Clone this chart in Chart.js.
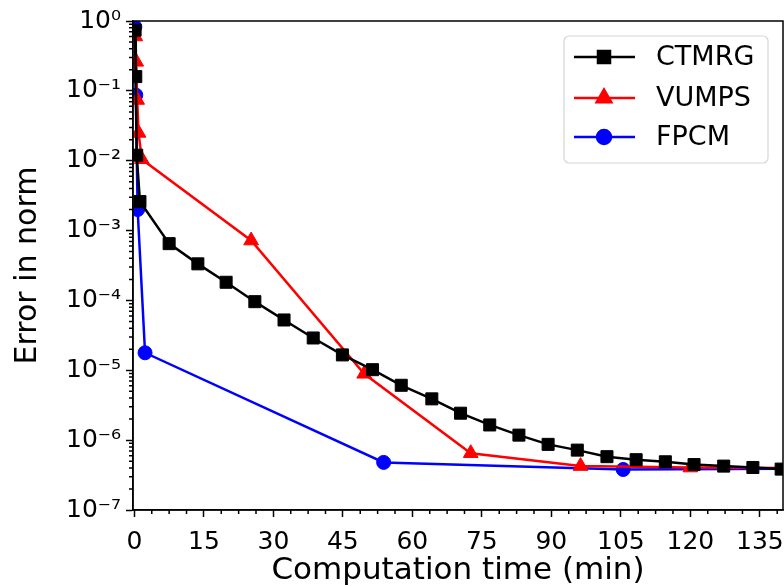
<!DOCTYPE html>
<html>
<head>
<meta charset="utf-8">
<style>
  html, body { margin: 0; padding: 0; background: #fff; }
  #wrap { width: 784px; height: 586px; }
</style>
</head>
<body>
<div id="wrap"><canvas id="errChart" width="784" height="586"></canvas></div>

<script src="https://cdn.jsdelivr.net/npm/chart.js"></script>
<script>
// values (time in minutes, error in norm)
const ctmrgTime = [0.15, 0.3, 0.5, 1.2, 7.5, 13.7, 19.8, 26.0, 32.3, 38.6, 44.9, 51.4, 57.6, 64.2, 70.4, 76.7, 83.0, 89.3, 95.6, 102.0, 108.3, 114.6, 120.8, 127.2, 133.5, 139.6];
const ctmrgErr = [0.74, 0.16, 0.012, 2.6e-3, 6.5e-4, 3.34e-4, 1.82e-4, 9.6e-5, 5.25e-5, 2.9e-5, 1.66e-5, 1.02e-5, 6.1e-6, 3.9e-6, 2.43e-6, 1.65e-6, 1.18e-6, 8.7e-7, 7.2e-7, 5.8e-7, 5.25e-7, 4.9e-7, 4.47e-7, 4.25e-7, 4.06e-7, 3.85e-7];

const vumpsTime = [0.2, 0.4, 0.6, 0.9, 1.6, 25.2, 49.6, 72.6, 96.3, 120.0, 144.0];
const vumpsErr = [0.6, 0.26, 0.074, 0.025, 0.0105, 7.2e-4, 8.9e-6, 6.5e-7, 4.25e-7, 4.05e-7, 4.0e-7];

const fpcmTime = [0.1, 0.3, 0.7, 2.3, 53.8, 105.5, 157.0];
const fpcmErr = [0.82, 0.087, 2.0e-3, 1.78e-5, 4.8e-7, 3.8e-7, 3.95e-7];

const xTicks = [0, 15, 30, 45, 60, 75, 90, 105, 120, 135];
const yTicks = [1e-7, 1e-6, 1e-5, 1e-4, 1e-3, 1e-2, 1e-1, 1e0];

const FONT = 'DejaVu Sans';
const sup = { '0': '⁰', '1': '¹', '2': '²', '3': '³', '4': '⁴', '5': '⁵', '6': '⁶', '7': '⁷', '8': '⁸', '9': '⁹', '-': '⁻' };

function toPoints(xs, ys) {
    return xs.map((x, i) => ({ x: x, y: ys[i] }));
}

function powLabel(v) {
    const e = Math.round(Math.log10(v));
    return '10' + String(e).split('').map(c => sup[c]).join('');
}

// markers are cut at the axes box, as in matplotlib
const clipToAxes = {
    id: 'clipToAxes',
    beforeDatasetsDraw(chart) {
        const a = chart.chartArea;
        chart.ctx.save();
        chart.ctx.beginPath();
        chart.ctx.rect(a.left, a.top, a.right - a.left, a.bottom - a.top);
        chart.ctx.clip();
    },
    afterDatasetsDraw(chart) {
        chart.ctx.restore();
    }
};

// frame, minor ticks and the boxed legend, drawn like the matplotlib figure
const figureDecor = {
    id: 'figureDecor',
    afterDraw(chart) {
        const ctx = chart.ctx;
        const area = chart.chartArea;
        const xs = chart.scales.x;
        const ys = chart.scales.y;

        ctx.save();
        ctx.strokeStyle = '#000';
        ctx.lineWidth = 1.5;

        // minor ticks
        ctx.beginPath();
        for (let v = 3.75; v < xs.max; v += 3.75) {
            if (Math.abs(v / 15 - Math.round(v / 15)) < 1e-6) continue;
            const px = xs.getPixelForValue(v);
            ctx.moveTo(px, area.bottom);
            ctx.lineTo(px, area.bottom + 4);
        }
        for (let e = -7; e < 0; e++) {
            for (let m = 2; m <= 9; m++) {
                const py = ys.getPixelForValue(m * Math.pow(10, e));
                ctx.moveTo(area.left, py);
                ctx.lineTo(area.left - 4, py);
            }
        }
        ctx.stroke();

        // axes box
        ctx.strokeRect(area.left, area.top, area.right - area.left, area.bottom - area.top);

        // legend
        const lx = 564, ly = 36, lw = 204, lh = 127;
        ctx.beginPath();
        ctx.roundRect(lx, ly, lw, lh, 5);
        ctx.fillStyle = 'rgba(255,255,255,0.8)';
        ctx.fill();
        ctx.strokeStyle = '#d6d6d6';
        ctx.lineWidth = 1.2;
        ctx.stroke();

        const rows = [57, 98, 137];
        ctx.font = '27px "' + FONT + '"';
        ctx.textBaseline = 'middle';
        ctx.textAlign = 'left';
        chart.data.datasets.forEach((ds, i) => {
            const y = rows[i];
            ctx.beginPath();
            ctx.strokeStyle = ds.borderColor;
            ctx.lineWidth = ds.borderWidth;
            ctx.moveTo(574, y);
            ctx.lineTo(635, y);
            ctx.stroke();
            Chart.helpers.drawPoint(ctx, {
                pointStyle: ds.pointStyle,
                radius: ds.pointRadius,
                borderWidth: 1
            }, 604, y);
            ctx.fillStyle = ds.pointBackgroundColor;
            ctx.strokeStyle = ds.pointBorderColor;
            ctx.fill();
            ctx.fillStyle = '#000';
            ctx.fillText(ds.label, 656, y + 1);
        });
        ctx.restore();
    }
};

const ctx = document.getElementById('errChart').getContext('2d');
new Chart(ctx, {
    type: 'line',
    data: {
        datasets: [{
            label: 'CTMRG',
            data: toPoints(ctmrgTime, ctmrgErr),
            borderColor: '#000000',
            backgroundColor: '#000000',
            pointBackgroundColor: '#000000',
            pointBorderColor: '#000000',
            pointStyle: 'rect',
            pointRadius: 8.5,
            pointBorderWidth: 1,
            borderWidth: 2.5
        }, {
            label: 'VUMPS',
            data: toPoints(vumpsTime, vumpsErr),
            borderColor: '#ff0000',
            backgroundColor: '#ff0000',
            pointBackgroundColor: '#ff0000',
            pointBorderColor: '#ff0000',
            pointStyle: 'triangle',
            pointRadius: 8.5,
            pointBorderWidth: 1,
            borderWidth: 2.5
        }, {
            label: 'FPCM',
            data: toPoints(fpcmTime, fpcmErr),
            borderColor: '#0000ff',
            backgroundColor: '#0000ff',
            pointBackgroundColor: '#0000ff',
            pointBorderColor: '#0000ff',
            pointStyle: 'circle',
            pointRadius: 7,
            pointBorderWidth: 1,
            borderWidth: 2.5
        }]
    },
    options: {
        responsive: false,
        animation: false,
        layout: { autoPadding: false, padding: { top: 21, right: 1, left: 0, bottom: 0 } },
        plugins: {
            legend: { display: false },
            tooltip: { enabled: false }
        },
        scales: {
            x: {
                type: 'linear',
                min: -0.3,
                max: 140,
                afterBuildTicks: (scale) => { scale.ticks = xTicks.map(v => ({ value: v })); },
                afterFit: (scale) => { scale.height = 76; scale.paddingLeft = 0; scale.paddingRight = 0; },
                ticks: {
                    color: '#000',
                    padding: 10,
                    maxRotation: 0,
                    autoSkip: false,
                    font: { family: FONT, size: 25 }
                },
                grid: { drawOnChartArea: false, tickLength: 7, tickWidth: 1.5, tickColor: '#000' },
                border: { display: true, color: '#000', width: 1.5 },
                title: {
                    display: true,
                    text: 'Computation time (min)',
                    color: '#000',
                    font: { family: FONT, size: 31, lineHeight: 1 },
                    padding: { top: 0, bottom: 0 }
                }
            },
            y: {
                type: 'logarithmic',
                min: 1e-7,
                max: 1,
                afterBuildTicks: (scale) => { scale.ticks = yTicks.map(v => ({ value: v })); },
                afterFit: (scale) => { scale.width = 133; scale.paddingTop = 0; scale.paddingBottom = 0; },
                ticks: {
                    color: '#000',
                    padding: 5,
                    autoSkip: false,
                    font: { family: FONT, size: 25 },
                    callback: (v) => powLabel(v)
                },
                grid: { drawOnChartArea: false, tickLength: 7, tickWidth: 1.5, tickColor: '#000' },
                border: { display: true, color: '#000', width: 1.5 },
                title: {
                    display: true,
                    text: 'Error in norm',
                    color: '#000',
                    font: { family: FONT, size: 30 },
                    padding: { top: 10, bottom: 0 }
                }
            }
        }
    },
    plugins: [clipToAxes, figureDecor]
});
</script>
</body>
</html>
